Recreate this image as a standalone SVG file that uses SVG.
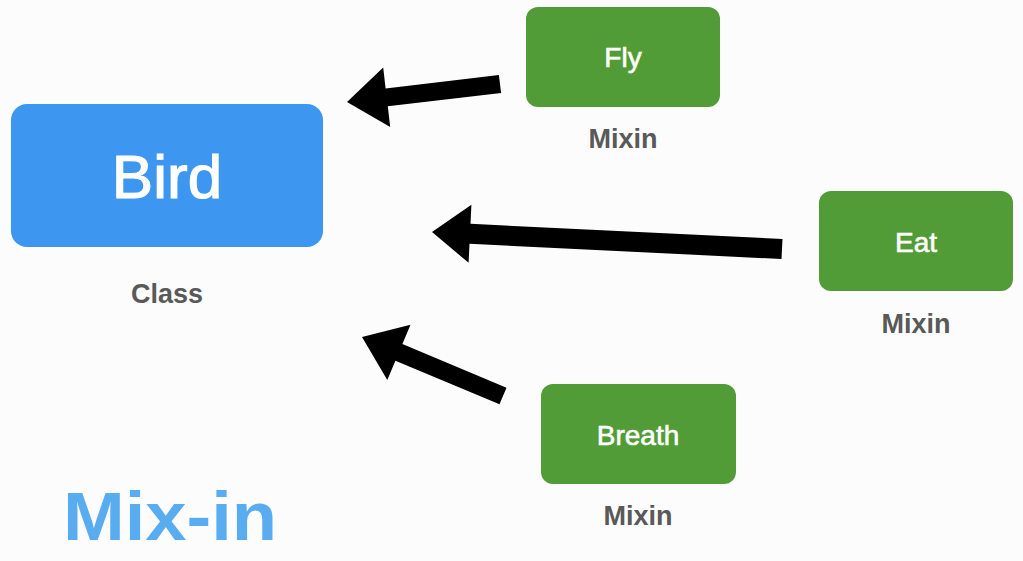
<svg xmlns="http://www.w3.org/2000/svg" width="1023" height="561" viewBox="0 0 1023 561">
  <style>
    .mix { fill: #519c36; }
    .boxtxt { font-family: "Liberation Sans", Arial, sans-serif; fill: #ffffff; stroke: #ffffff; stroke-width: 0.6px; text-anchor: middle; font-size: 28px; }
    .sub { font-family: "Liberation Sans", Arial, sans-serif; fill: #595959; text-anchor: middle; font-size: 27px; font-weight: bold; }
    .arrow { fill: #000000; }
  </style>
  <rect x="0" y="0" width="1023" height="561" fill="#fcfcfc"/>
  <g id="bird">
    <rect x="11" y="104" width="312" height="143" rx="16" fill="#3d97f0"/>
    <text x="167" y="198" class="boxtxt" style="font-size:62px;stroke-width:1.2px">Bird</text>
    <text x="167" y="303" class="sub">Class</text>
  </g>
  <g id="fly">
    <rect x="526" y="7" width="194" height="100" rx="12" class="mix"/>
    <text x="623" y="67" class="boxtxt">Fly</text>
    <text x="623" y="148" class="sub">Mixin</text>
  </g>
  <g id="eat">
    <rect x="819" y="191" width="194" height="100" rx="12" class="mix"/>
    <text x="916" y="252" class="boxtxt">Eat</text>
    <text x="916" y="333" class="sub">Mixin</text>
  </g>
  <g id="breath">
    <rect x="541" y="384" width="195" height="100" rx="12" class="mix"/>
    <text x="638" y="445" class="boxtxt">Breath</text>
    <text x="638" y="525" class="sub">Mixin</text>
  </g>
  <g id="connectors">
    <polygon class="arrow" points="347,102 383.2,67.5 385.6,88.4 498.9,75.1 501.1,92.9 387.8,106.2 390.2,127.1"/>
    <polygon class="arrow" points="432,232 471.4,204.8 470.5,223.8 782.5,239 781.5,259 469.5,243.8 468.6,262.8"/>
    <polygon class="arrow" points="362,337 410.5,324.7 402.4,344.1 506.5,387.7 499.5,404.3 395.4,360.7 387.3,380.1"/>
  </g>
  <g id="title">
    <text x="63" y="540" font-family="Liberation Sans, Arial, sans-serif" font-weight="bold" font-size="68" fill="#5aacf0" textLength="214" lengthAdjust="spacingAndGlyphs">Mix-in</text>
  </g>
</svg>
